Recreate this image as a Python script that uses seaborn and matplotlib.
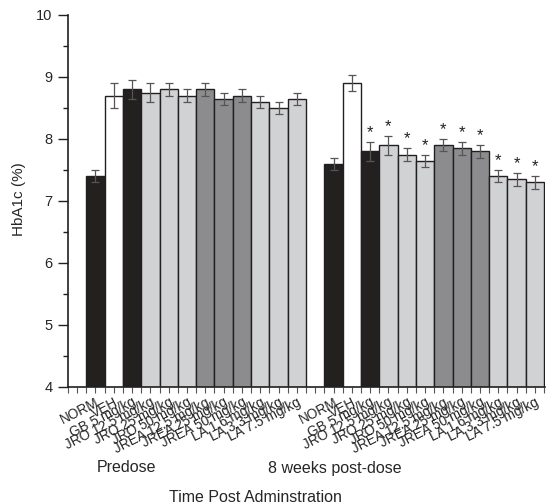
import numpy as np
import pandas as pd
import matplotlib
matplotlib.use("Agg")
import matplotlib.pyplot as plt
import seaborn as sns

treatments = ["NORM", "VEH", "GB 5 mg/kg", "JRO 12.5 mg/kg", "JRO 25 mg/kg", "JRO 50 mg/kg",
              "JREA 12.5 mg/kg", "JREA 25 mg/kg", "JREA 50 mg/kg",
              "LA 1.6 mg/kg", "LA 3.3 mg/kg", "LA 7.5 mg/kg"]
groups = ["Predose", "8 weeks post-dose"]
predose_mean = [7.4, 8.7, 8.8, 8.75, 8.8, 8.7, 8.8, 8.65, 8.7, 8.6, 8.5, 8.65]
predose_err = [0.1, 0.2, 0.15, 0.15, 0.1, 0.1, 0.1, 0.1, 0.1, 0.1, 0.1, 0.1]
post_mean = [7.6, 8.9, 7.8, 7.9, 7.75, 7.65, 7.9, 7.85, 7.8, 7.4, 7.35, 7.3]
post_err = [0.1, 0.13, 0.15, 0.15, 0.1, 0.1, 0.1, 0.1, 0.1, 0.1, 0.1, 0.1]
post_sig = [False, False, True, True, True, True, True, True, True, True, True, True]
bar_kind = ["norm", "veh", "gb", "jro", "jro", "jro", "jrea", "jrea", "jrea", "la", "la", "la"]

palette = {"norm": "#231f20", "veh": "#ffffff", "gb": "#231f20",
           "jro": "#d1d2d4", "jrea": "#8b8c8f", "la": "#d1d2d4"}

n = len(treatments)
rows = []
for gi, (means, errs) in enumerate([(predose_mean, predose_err), (post_mean, post_err)]):
    for i in range(n):
        rows.append({"pos": gi * (n + 1) + i, "value": means[i], "err": errs[i],
                     "kind": bar_kind[i], "label": treatments[i], "group": groups[gi],
                     "sig": (gi == 1 and post_sig[i])})
df = pd.DataFrame(rows)

sns.set_style("ticks")
plt.rcParams["font.family"] = ["Liberation Sans", "DejaVu Sans"]

fig = plt.figure(figsize=(5.55, 5.04), dpi=100)
ax = fig.add_axes([68 / 555, 1 - 387 / 504, (545 - 68) / 555, (387 - 15) / 504])

order = list(range(2 * n + 1))
sns.barplot(data=df, x="pos", y="value", hue="kind", palette=palette, order=order,
            dodge=False, width=1.0, errorbar=None, edgecolor="#231f20", linewidth=1.0,
            legend=False, ax=ax)

ax.errorbar(df["pos"], df["value"], yerr=df["err"], fmt="none", ecolor="#555555",
            elinewidth=0.9, capsize=3, capthick=0.9, zorder=5)

for _, r in df[df["sig"]].iterrows():
    ax.text(r["pos"], r["value"] + r["err"] + 0.03, "*", ha="center", va="bottom",
            fontsize=12, color="#231f20")

ax.set_ylim(4, 10)
ax.set_xlim(-1.5, 2 * n + 0.55)
ax.set_yticks([4, 5, 6, 7, 8, 9, 10])
ax.set_yticks(np.arange(4.5, 10, 1.0), minor=True)
ax.tick_params(axis="y", which="major", length=7, width=1, labelsize=10.5, color="#231f20", pad=4)
ax.tick_params(axis="y", which="minor", length=3.5, width=1, color="#231f20")

ax.set_xticks(df["pos"])
ax.set_xticklabels(df["label"], rotation=27, ha="right", rotation_mode="anchor", fontsize=9.8)
ax.set_xticks(np.arange(-1.5, 2 * n + 0.6, 0.5), minor=True)
ax.tick_params(axis="x", which="major", length=4, width=0.8, color="#555555", pad=2)
ax.tick_params(axis="x", which="minor", length=4, width=0.8, color="#555555")

for s in ["left", "bottom"]:
    ax.spines[s].set_color("#231f20")
    ax.spines[s].set_linewidth(1.2)
sns.despine(ax=ax)

ax.set_xlabel("")
ax.set_ylabel("")
fig.text(19 / 555, 1 - 199 / 504, "HbA1c (%)", rotation=90, ha="center", va="center", fontsize=11)

fig.text(127 / 555, 1 - 468 / 504, groups[0], ha="center", va="center", fontsize=11.5)
fig.text(335 / 555, 1 - 468 / 504, groups[1], ha="center", va="center", fontsize=11.5)
fig.text(255 / 555, 1 - 497 / 504, "Time Post Adminstration", ha="center", va="center", fontsize=11.5)

fig.savefig("out.png", dpi=100)
